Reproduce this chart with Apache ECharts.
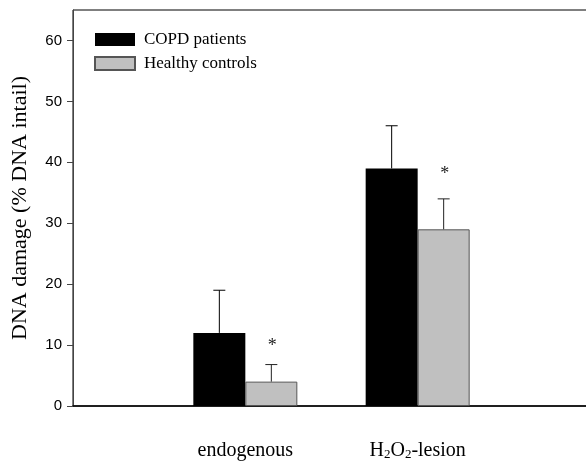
<!DOCTYPE html>
<html>
<head>
<meta charset="utf-8">
<script src="https://cdn.jsdelivr.net/npm/echarts@6/dist/echarts.min.js"></script>
<style>html,body{margin:0;padding:0;background:#fff}#c{width:586px;height:461px}</style>
</head>
<body>
<div id="c"></div>
<script>
const categories = ['endogenous', 'H2O2-lesion'];
const copdMean = [12, 39];
const copdErr = [7, 7];
const healthyMean = [4, 29];
const healthyErr = [2.8, 5];
const starY = [9.8, 38];
const yTicks = [0, 10, 20, 30, 40, 50, 60];

const axisCats = [''].concat(categories).concat(['']);
const chart = echarts.init(document.getElementById('c'), null, {renderer: 'canvas'});

function errSeries(name, means, errs, offset, stars, color) {
  return {
    type: 'custom',
    name: name,
    z: 5,
    data: means.map((m, i) => [i + 1, m, errs[i], stars ? stars[i] : null]),
    renderItem: function (params, api) {
      const c = api.value(0);
      const base = api.coord([c, api.value(1)]);
      const top = api.coord([c, api.value(1) + api.value(2)]);
      const x = base[0] + offset;
      const children = [
        {type: 'line', shape: {x1: x, y1: base[1], x2: x, y2: top[1]}, style: {stroke: color, lineWidth: 1}},
        {type: 'line', shape: {x1: x - 6, y1: top[1], x2: x + 6, y2: top[1]}, style: {stroke: color, lineWidth: 1}}
      ];
      const s = api.value(3);
      if (s != null && !isNaN(s)) {
        const sp = api.coord([c, s]);
        children.push({type: 'text', x: x + 1, y: sp[1], style: {text: '*', fill: '#222', font: '18px "Liberation Serif"', align: 'center', verticalAlign: 'middle'}});
      }
      return {type: 'group', children: children};
    }
  };
}

chart.setOption({
  animation: false,
  backgroundColor: '#fff',
  grid: {left: 73, top: 10, bottom: 55, width: 517, outerBoundsMode: 'none', containLabel: false,
         show: true, borderColor: '#000', borderWidth: 1},
  legend: {
    orient: 'vertical', left: 94, top: 31, padding: 0, itemWidth: 40, itemHeight: 13, itemGap: 7,
    icon: 'rect',
    data: ['COPD patients', 'Healthy controls'],
    textStyle: {fontFamily: 'Liberation Serif', fontSize: 17, color: '#000', padding: [0, 0, 0, 4]}
  },
  xAxis: {
    type: 'category', data: axisCats, boundaryGap: false,
    axisLine: {lineStyle: {color: '#000', width: 1.5}},
    axisTick: {show: false},
    splitLine: {show: false},
    axisLabel: {
      margin: 34, interval: 0,
      formatter: function (v) {
        if (v === 'H2O2-lesion') return '{n|H}{s|2}{n|O}{s|2}{n|-lesion}';
        return '{n|' + v + '}';
      },
      rich: {
        n: {fontFamily: 'Liberation Serif', fontSize: 20, color: '#000', lineHeight: 22},
        s: {fontFamily: 'Liberation Serif', fontSize: 13, color: '#000', lineHeight: 22, padding: [8, 0, 0, 0]}
      }
    }
  },
  yAxis: {
    type: 'value', min: 0, max: 65,
    name: 'DNA damage (% DNA intail)', nameLocation: 'middle', nameGap: 42,
    nameTextStyle: {fontFamily: 'Liberation Serif', fontSize: 22, color: '#000'},
    axisLine: {show: true, lineStyle: {color: '#444', width: 1}},
    axisTick: {show: true, length: 6, customValues: yTicks, lineStyle: {color: '#444'}},
    axisLabel: {customValues: yTicks, margin: 11, fontFamily: 'Liberation Sans', fontSize: 15, color: '#000'},
    splitLine: {show: false}
  },
  series: [
    {type: 'bar', name: 'COPD patients', barWidth: 52, barGap: '0%',
     itemStyle: {color: '#000'},
     data: copdMean.map((v, i) => [i + 1, v])},
    {type: 'bar', name: 'Healthy controls', barWidth: 52, barGap: '0%',
     itemStyle: {color: '#c0c0c0', borderColor: '#555', borderWidth: 1},
     data: healthyMean.map((v, i) => [i + 1, v])},
    errSeries('copdErr', copdMean, copdErr, -26, null, '#000'),
    errSeries('healthyErr', healthyMean, healthyErr, 26, starY, '#222')
  ]
});
</script>
</body>
</html>
